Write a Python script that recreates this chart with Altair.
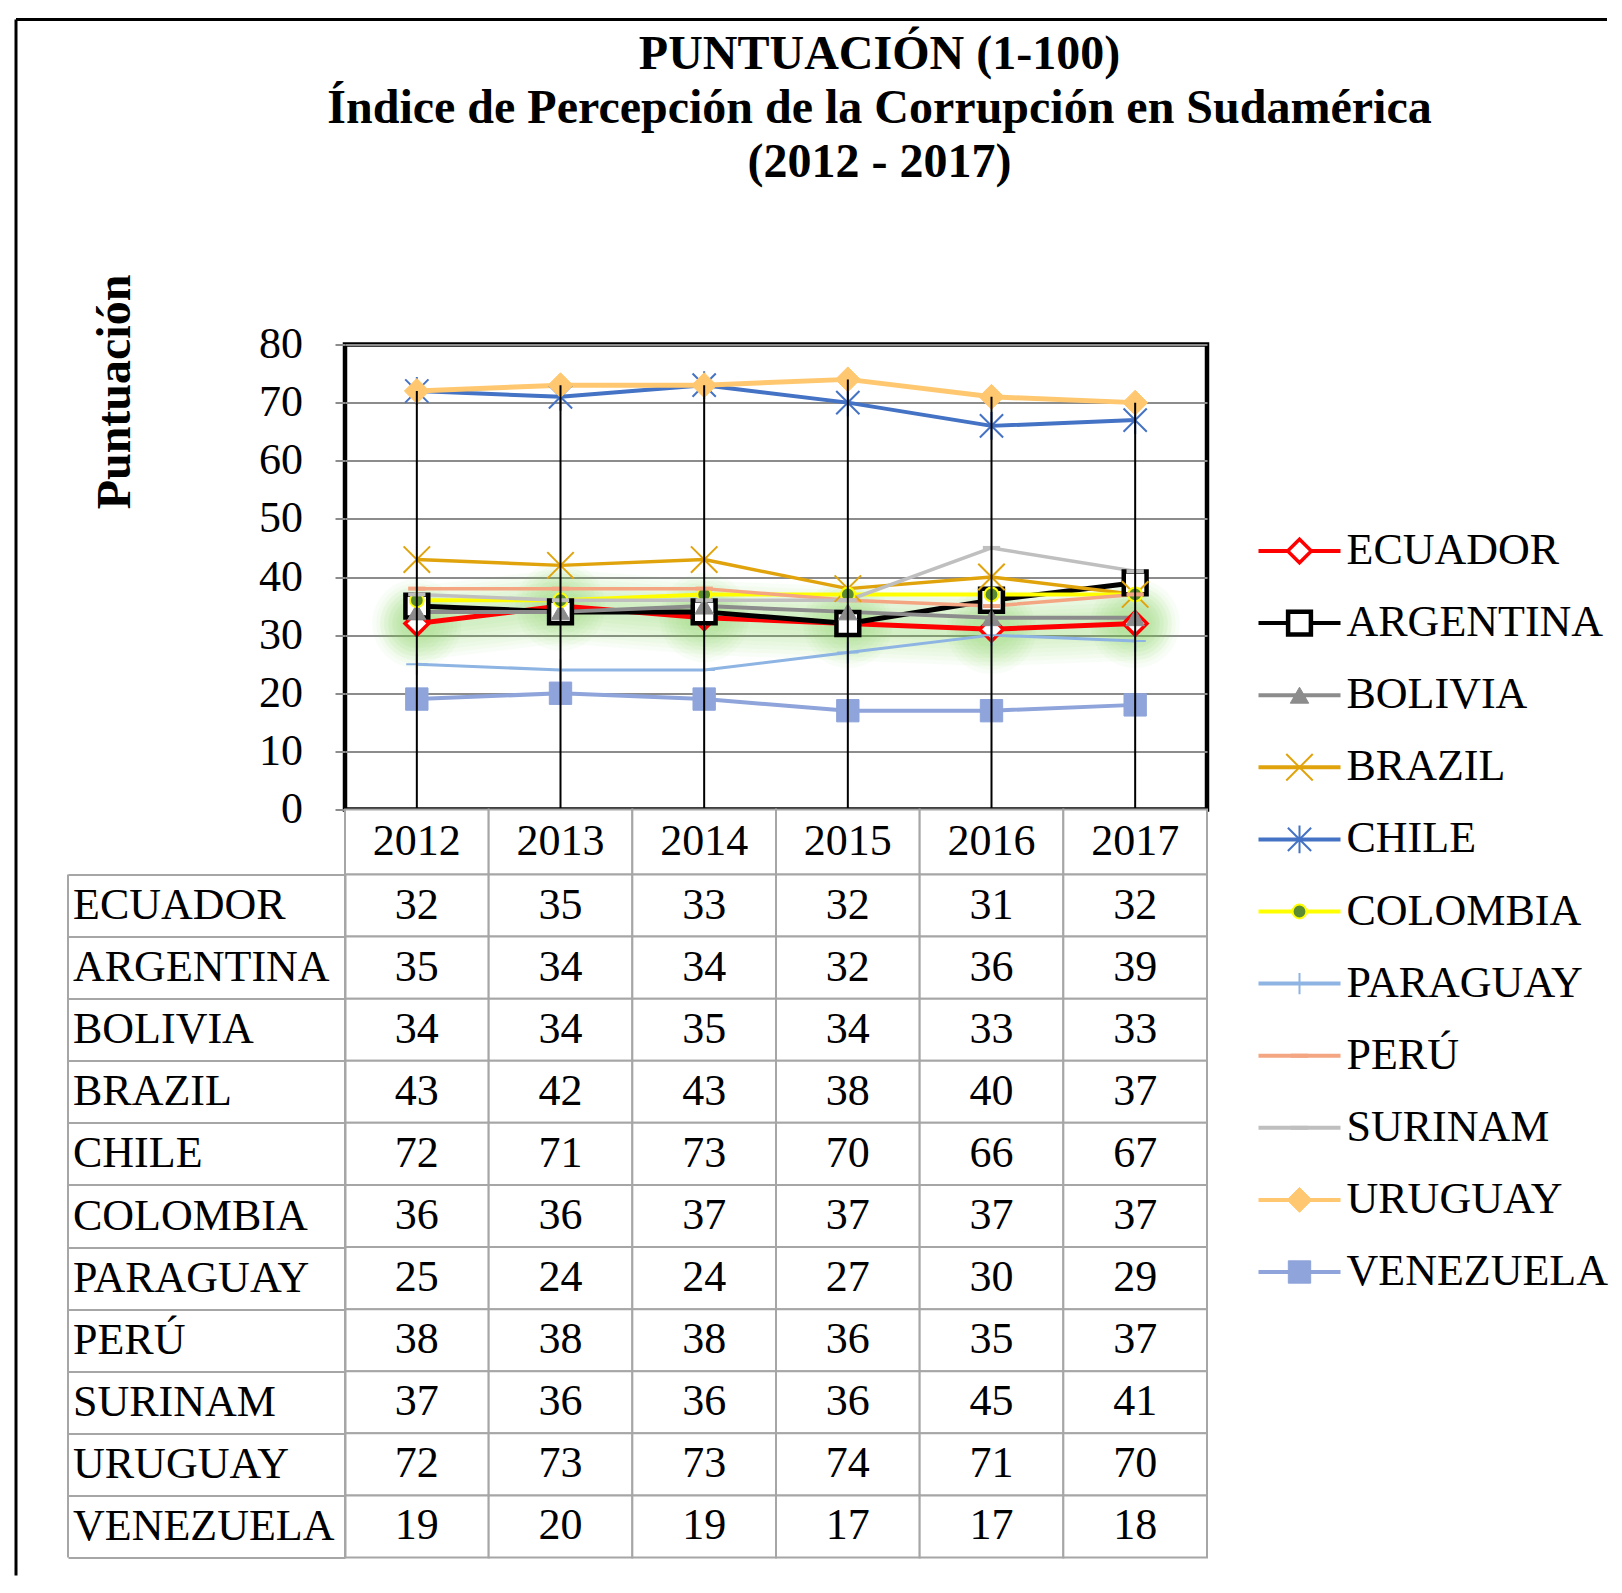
import altair as alt
import pandas as pd

# ---------------- data ----------------
years = ["2012", "2013", "2014", "2015", "2016", "2017"]
countries = ["ECUADOR", "ARGENTINA", "BOLIVIA", "BRAZIL", "CHILE", "COLOMBIA",
             "PARAGUAY", "PERÚ", "SURINAM", "URUGUAY", "VENEZUELA"]
ecuador = [32, 35, 33, 32, 31, 32]
argentina = [35, 34, 34, 32, 36, 39]
bolivia = [34, 34, 35, 34, 33, 33]
brazil = [43, 42, 43, 38, 40, 37]
chile = [72, 71, 73, 70, 66, 67]
colombia = [36, 36, 37, 37, 37, 37]
paraguay = [25, 24, 24, 27, 30, 29]
peru = [38, 38, 38, 36, 35, 37]
surinam = [37, 36, 36, 36, 45, 41]
uruguay = [72, 73, 73, 74, 71, 70]
venezuela = [19, 20, 19, 17, 17, 18]

title_lines = ["PUNTUACIÓN (1-100)",
               "Índice de Percepción de la Corrupción en Sudamérica",
               "(2012 - 2017)"]
y_title = "Puntuación"
y_ticks = [0, 10, 20, 30, 40, 50, 60, 70, 80]

series = {"ECUADOR": ecuador, "ARGENTINA": argentina, "BOLIVIA": bolivia,
          "BRAZIL": brazil, "CHILE": chile, "COLOMBIA": colombia,
          "PARAGUAY": paraguay, "PERÚ": peru, "SURINAM": surinam,
          "URUGUAY": uruguay, "VENEZUELA": venezuela}

rows = []
for c in countries:
    for yr, v in zip(years, series[c]):
        rows.append({"country": c, "year": yr, "value": v})
df = pd.DataFrame(rows)
leg_df = pd.DataFrame({"country": countries})
year_df = pd.DataFrame({"year": years})
title_df = pd.DataFrame({"line": title_lines})
frame_df = pd.DataFrame({"frame": [0]})

# ---------------- styles ----------------
FONT = "Liberation Serif"
W = 862
H_TITLE = 324.5
H_PLOT = 465
H_HEAD = 65
H_TABLE = 683
GRID = "#8c8c8c"
TBL = "#a6a6a6"
GLOW = "#7ad650"

line_style = {
    "ECUADOR": ("#FF0000", 5),
    "ARGENTINA": ("#000000", 5),
    "BOLIVIA": ("#8C8C8C", 4),
    "BRAZIL": ("#E0A30C", 3.5),
    "CHILE": ("#4472C4", 4),
    "COLOMBIA": ("#FFFF00", 4),
    "PARAGUAY": ("#8DB4E2", 3),
    "PERÚ": ("#F4A582", 3.5),
    "SURINAM": ("#BFBFBF", 3.5),
    "URUGUAY": ("#FFC870", 5),
    "VENEZUELA": ("#8EA4DA", 4),
}
XSHAPE = "M-1,-1L1,1M-1,1L1,-1"
ASTER = "M-1,-1L1,1M-1,1L1,-1M0,-1.2L0,1.2"
PLUS = "M-1,0L1,0M0,-1L0,1"
DASH = "M-1,0L1,0"
markers = {
    "ECUADOR": dict(shape="diamond", filled=True, fill="white", stroke="#FF0000", strokeWidth=3.5, size=560),
    "ARGENTINA": dict(shape="square", filled=True, fill="white", stroke="#000000", strokeWidth=4.5, size=520),
    "BOLIVIA": dict(shape="triangle-up", filled=True, fill="#8C8C8C", stroke="#8C8C8C", strokeWidth=1, size=340),
    "BRAZIL": dict(shape=XSHAPE, filled=False, stroke="#E0A30C", strokeWidth=2, size=700),
    "CHILE": dict(shape=ASTER, filled=False, stroke="#4472C4", strokeWidth=2, size=540),
    "COLOMBIA": dict(shape="circle", filled=True, fill="#5B8C32", stroke="#FFFF00", strokeWidth=2, size=190),
    "PARAGUAY": dict(shape=PLUS, filled=False, stroke="#8DB4E2", strokeWidth=2, size=450),
    "PERÚ": dict(shape=DASH, filled=False, stroke="#F4A582", strokeWidth=4, size=300),
    "SURINAM": dict(shape=DASH, filled=False, stroke="#BFBFBF", strokeWidth=4, size=300),
    "URUGUAY": dict(shape="diamond", filled=True, fill="#FFC870", stroke="#FFC870", strokeWidth=1, size=620),
    "VENEZUELA": dict(shape="square", filled=True, fill="#8EA4DA", stroke="#8EA4DA", strokeWidth=1, size=500),
}

# ---------------- line chart ----------------
x_enc = alt.X("year:O", sort=years,
              scale=alt.Scale(type="point", domain=years, padding=0.5), axis=None)
y_scale = alt.Scale(domain=[0, 80], nice=False)
y_axis = alt.Axis(values=y_ticks, title=y_title, titleFont=FONT, titleFontSize=48,
                  titleFontWeight="bold", titleColor="black", titleAngle=270,
                  titleX=-229.5, titleY=47, titleAlign="center", titleBaseline="middle",
                  labelFont=FONT, labelFontSize=44, labelColor="black", labelPadding=32.5,
                  tickSize=10, tickColor=GRID, tickWidth=2, domain=False,
                  grid=True, gridColor=GRID, gridWidth=2)
base = alt.Chart(df).encode(x=x_enc, y=alt.Y("value:Q", scale=y_scale, axis=y_axis))

# soft green glow around the ECUADOR series
ecu = base.transform_filter(alt.datum.country == "ECUADOR")
glow = [ecu.mark_line(color=GLOW, strokeWidth=w, opacity=0.045, strokeCap="round", strokeJoin="round")
        for w in [74, 66, 58, 50, 42, 34, 26, 18]]
glow += [ecu.mark_point(shape="circle", filled=True, color=GLOW, size=s, opacity=0.045)
         for s in [8000, 6600, 5300, 4200, 3200, 2300, 1500]]

lines = []
points = []
for c in countries:
    col, sw = line_style[c]
    sub = base.transform_filter(alt.datum.country == c)
    lines.append(sub.mark_line(color=col, strokeWidth=sw, strokeJoin="round"))
    points.append(sub.mark_point(opacity=1, **markers[c]))

drops = alt.Chart(df).transform_aggregate(
    top="max(value)", groupby=["year"]
).mark_rule(color="black", strokeWidth=2).encode(
    x=x_enc, y=alt.Y("top:Q", scale=y_scale, axis=y_axis), y2=alt.datum(0))

data_layer = alt.layer(*glow, *lines, *points, drops)

# legend (custom, drawn from the country list)
ly = alt.Y("country:N", scale=alt.Scale(type="point", domain=countries,
                                         range=[206.5, 927.5], padding=0), axis=None)
leg_rule = alt.Chart(leg_df).mark_rule(strokeWidth=4).encode(
    x=alt.value(913.5), x2=alt.value(995.5), y=ly,
    color=alt.Color("country:N", scale=alt.Scale(domain=countries,
                                                  range=[line_style[c][0] for c in countries]),
                    legend=None))
leg_points = [alt.Chart(leg_df).transform_filter(alt.datum.country == c)
              .mark_point(opacity=1, **markers[c]).encode(x=alt.value(954.5), y=ly)
              for c in countries]
leg_text = alt.Chart(leg_df).mark_text(align="left", baseline="middle", font=FONT,
                                       fontSize=44, color="black").encode(
    x=alt.value(1001.5), y=ly, text="country:N")
legend_layer = alt.layer(leg_rule, *leg_points, leg_text)

line_chart = alt.layer(data_layer, legend_layer).resolve_scale(y="independent").properties(
    width=W, height=H_PLOT, view=alt.ViewBackground(stroke="black", strokeWidth=4.5))

# ---------------- title + frame ----------------
title_text = alt.Chart(title_df).mark_text(
    font=FONT, fontSize=48, fontWeight="bold", baseline="alphabetic", align="center",
    color="black").encode(
    y=alt.Y("line:N", scale=alt.Scale(type="point", domain=title_lines, range=[49, 157], padding=0),
            axis=None),
    text="line:N")
frame_top = alt.Chart(frame_df).mark_rule(color="black", strokeWidth=3).encode(
    x=alt.value(-329), x2=alt.value(1262), y=alt.value(0))
frame_left = alt.Chart(frame_df).mark_rule(color="black", strokeWidth=3).encode(
    x=alt.value(-329), y=alt.value(0), y2=alt.value(1556))
title_chart = alt.layer(title_text, frame_top, frame_left).properties(width=1069, height=H_TITLE)

# ---------------- table header ----------------
band_x = alt.X("year:O", sort=years,
               scale=alt.Scale(type="band", domain=years, paddingInner=0, paddingOuter=0), axis=None)
head_rect = alt.Chart(year_df).mark_rect(fill="white", stroke=TBL, strokeWidth=2).encode(x=band_x)
head_text = alt.Chart(year_df).mark_text(font=FONT, fontSize=44, baseline="middle",
                                         color="black").encode(x=band_x, text="year:N")
header_chart = alt.layer(head_rect, head_text).properties(width=W, height=H_HEAD)

# ---------------- table body ----------------
band_y = alt.Y("country:N", sort=countries,
               scale=alt.Scale(type="band", domain=countries, paddingInner=0, paddingOuter=0),
               axis=alt.Axis(title=None, labelAlign="left", labelBaseline="middle",
                             labelPadding=-4.5, labelFont=FONT, labelFontSize=44,
                             labelColor="black", labelLimit=400, ticks=True,
                             tickBand="extent", tickSize=277, tickColor=TBL, tickWidth=2,
                             domain=True, domainColor=TBL, domainWidth=2, grid=False))
cell_rect = alt.Chart(df).mark_rect(fill="white", stroke=TBL, strokeWidth=2).encode(x=band_x, y=band_y)
cell_text = alt.Chart(df).mark_text(font=FONT, fontSize=44, baseline="middle",
                                    color="black").encode(x=band_x, y=band_y, text="value:Q")
label_border = alt.Chart(frame_df).mark_rule(color=TBL, strokeWidth=2).encode(
    x=alt.value(-277), y=alt.value(0), y2=alt.value(H_TABLE))
table_chart = alt.layer(cell_rect, cell_text, label_border).properties(width=W, height=H_TABLE)

chart = alt.vconcat(title_chart, line_chart, header_chart, table_chart,
                    spacing=0, bounds="flush",
                    padding={"left": 6, "top": 9.5, "right": 2, "bottom": 2}
                    ).configure(background="white").configure_view(stroke="transparent")

chart.save("out.html", embed_options={"renderer": "svg", "actions": False})
